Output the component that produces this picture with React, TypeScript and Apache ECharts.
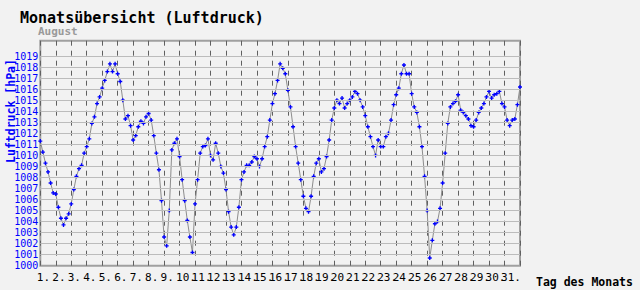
import React, { useEffect, useRef } from "react";
import * as echarts from "echarts";

const TITLE = "Monatsübersicht (Luftdruck)";
const SUBTITLE = "August";
const Y_NAME = "Luftdruck [hPa]";
const X_NAME = "Tag des Monats";

// readings every 4 hours, starting on day 1 at 00:00 (hPa)
const STEP_HOURS = 4;
const pressure = [
  1011.3, 1010.3, 1009.3, 1008.5, 1007.5, 1006.6,
  1006.5, 1005.3, 1004.3, 1003.7, 1004.3, 1004.7,
  1005.6, 1006.9, 1008.1, 1008.8, 1009.1, 1010.2,
  1010.8, 1011.5, 1012.9, 1013.5, 1014.7, 1015.3,
  1016.1, 1016.8, 1017.6, 1018.3, 1017.6, 1018.3,
  1017.4, 1016.7, 1015.0, 1013.3, 1013.6, 1012.7,
  1011.4, 1011.8, 1012.6, 1013.1, 1012.9, 1013.5,
  1013.8, 1013.2, 1011.8, 1010.2, 1008.7, 1005.9,
  1002.6, 1001.8, 1005.0, 1010.5, 1011.1, 1011.5,
  1009.9, 1007.8, 1005.9, 1004.1, 1002.6, 1001.2,
  1005.6, 1007.8, 1010.2, 1010.8, 1010.9, 1011.5,
  1010.0, 1009.6, 1011.1, 1010.2, 1009.0, 1008.4,
  1006.9, 1004.9, 1003.5, 1002.8, 1003.5, 1005.3,
  1007.8, 1008.5, 1009.1, 1009.1, 1009.4, 1009.9,
  1009.7, 1009.0, 1009.7, 1010.8, 1011.7, 1013.2,
  1014.7, 1015.6, 1016.8, 1018.3, 1017.9, 1017.4,
  1015.9, 1014.4, 1012.6, 1010.8, 1009.3, 1007.8,
  1006.3, 1005.2, 1004.9, 1006.3, 1008.1, 1009.3,
  1009.7, 1008.5, 1008.8, 1009.9, 1011.4, 1013.2,
  1014.3, 1015.0, 1014.7, 1015.2, 1014.3, 1014.7,
  1015.0, 1015.3, 1015.8, 1015.6, 1015.0, 1014.4,
  1013.6, 1012.6, 1011.7, 1010.8, 1010.0, 1011.4,
  1010.8, 1010.8, 1011.7, 1012.0, 1013.2, 1014.6,
  1015.5, 1016.1, 1017.4, 1018.2, 1017.4, 1017.4,
  1015.6, 1014.4, 1013.9, 1012.6, 1010.8, 1008.1,
  1005.0, 1000.7, 1002.3, 1003.8, 1004.0, 1005.2,
  1007.5, 1010.2, 1012.9, 1014.4, 1014.7, 1014.9,
  1015.5, 1014.1, 1013.9, 1013.6, 1013.3, 1012.7,
  1012.6, 1013.2, 1013.9, 1014.3, 1014.7, 1015.3,
  1015.8, 1015.2, 1015.5, 1015.6, 1015.8, 1014.7,
  1014.4, 1013.2, 1012.7, 1013.2, 1013.3, 1014.6,
  1016.2,
];

const Y_MIN = 1000;
const Y_MAX = 1020.4;
const Y_LAST_LABEL = 1019;
const X_MIN = 1;
const X_MAX = 32;
const LAST_DAY = 31;
const gridValues = [
  1001, 1002, 1003, 1004, 1005, 1006, 1007, 1008, 1009, 1010,
  1011, 1012, 1013, 1014, 1015, 1016, 1017, 1018, 1019,
];

const MONO = "'DejaVu Sans Mono', monospace";

export default function App() {
  const ref = useRef<HTMLDivElement>(null);

  useEffect(() => {
    if (!ref.current) return;
    const chart = echarts.init(ref.current, undefined, { renderer: "svg" });
    const seriesData = pressure.map((v, i) => [X_MIN + (i * STEP_HOURS) / 24, v]);

    chart.setOption({
      animation: false,
      backgroundColor: "#f2f2f2",
      textStyle: { fontFamily: MONO },
      grid: {
        left: 40.3,
        right: 120,
        top: 40.7,
        bottom: 24.3,
        show: true,
        backgroundColor: "transparent",
        borderColor: "#a0a0a0",
        borderWidth: 2,
      },
      xAxis: {
        type: "value",
        min: X_MIN,
        max: X_MAX,
        interval: 1,
        axisLine: { show: false },
        axisTick: { show: false },
        splitLine: {
          show: true,
          lineStyle: { color: "#606060", width: 1, type: [5, 5] },
        },
        axisLabel: {
          show: true,
          showMinLabel: true,
          showMaxLabel: false,
          hideOverlap: false,
          fontFamily: MONO,
          fontSize: 11,
          color: "#000",
          margin: 6,
          align: "left",
          padding: [0, 0, 0, -3.5],
          formatter: (v: number) => (v > LAST_DAY ? "" : `${v}.`),
        },
      },
      yAxis: {
        type: "value",
        min: Y_MIN,
        max: Y_MAX,
        interval: 1,
        axisLine: { show: false },
        axisTick: { show: false },
        splitLine: { show: false },
        axisLabel: {
          fontFamily: MONO,
          fontSize: 10,
          color: "#0000ff",
          margin: 2,
          formatter: (v: number) => (v <= Y_LAST_LABEL ? String(v) : ""),
        },
      },
      graphic: [
        {
          type: "text",
          left: 20,
          top: 10,
          style: { text: TITLE, font: `bold 15px ${MONO}`, fill: "#000" },
        },
        {
          type: "text",
          left: 38,
          top: 26,
          style: { text: SUBTITLE, font: `bold 11px ${MONO}`, fill: "#9a9a9a" },
        },
        {
          type: "text",
          x: 10.5,
          y: 111,
          rotation: Math.PI / 2,
          style: {
            text: Y_NAME,
            font: `bold 11.5px ${MONO}`,
            fill: "#0000ff",
            align: "center",
            verticalAlign: "middle",
          },
        },
        {
          type: "text",
          x: 536,
          y: 282,
          style: {
            text: X_NAME,
            font: `bold 11.5px ${MONO}`,
            fill: "#000",
            align: "left",
            verticalAlign: "middle",
          },
        },
      ],
      series: [
        {
          type: "line",
          data: [],
          z: 1,
          silent: true,
          markLine: {
            silent: true,
            symbol: ["none", "none"],
            label: { show: false },
            lineStyle: { color: "#bcbcbc", width: 1, type: "solid" },
            data: gridValues.map((v) => ({ yAxis: v })),
          },
        },
        {
          type: "line",
          data: seriesData,
          z: 3,
          showSymbol: true,
          symbol: "path://M1,0H2V1H3V2H2V3H1V2H0V1H1Z",
          symbolSize: 4,
          itemStyle: { color: "#0000ff" },
          lineStyle: { color: "#8c8c8c", width: 1 },
        },
      ],
    });

    return () => chart.dispose();
  }, []);

  return (
    <div
      ref={ref}
      style={{ position: "fixed", left: 0, top: 0, width: 640, height: 290 }}
    />
  );
}
